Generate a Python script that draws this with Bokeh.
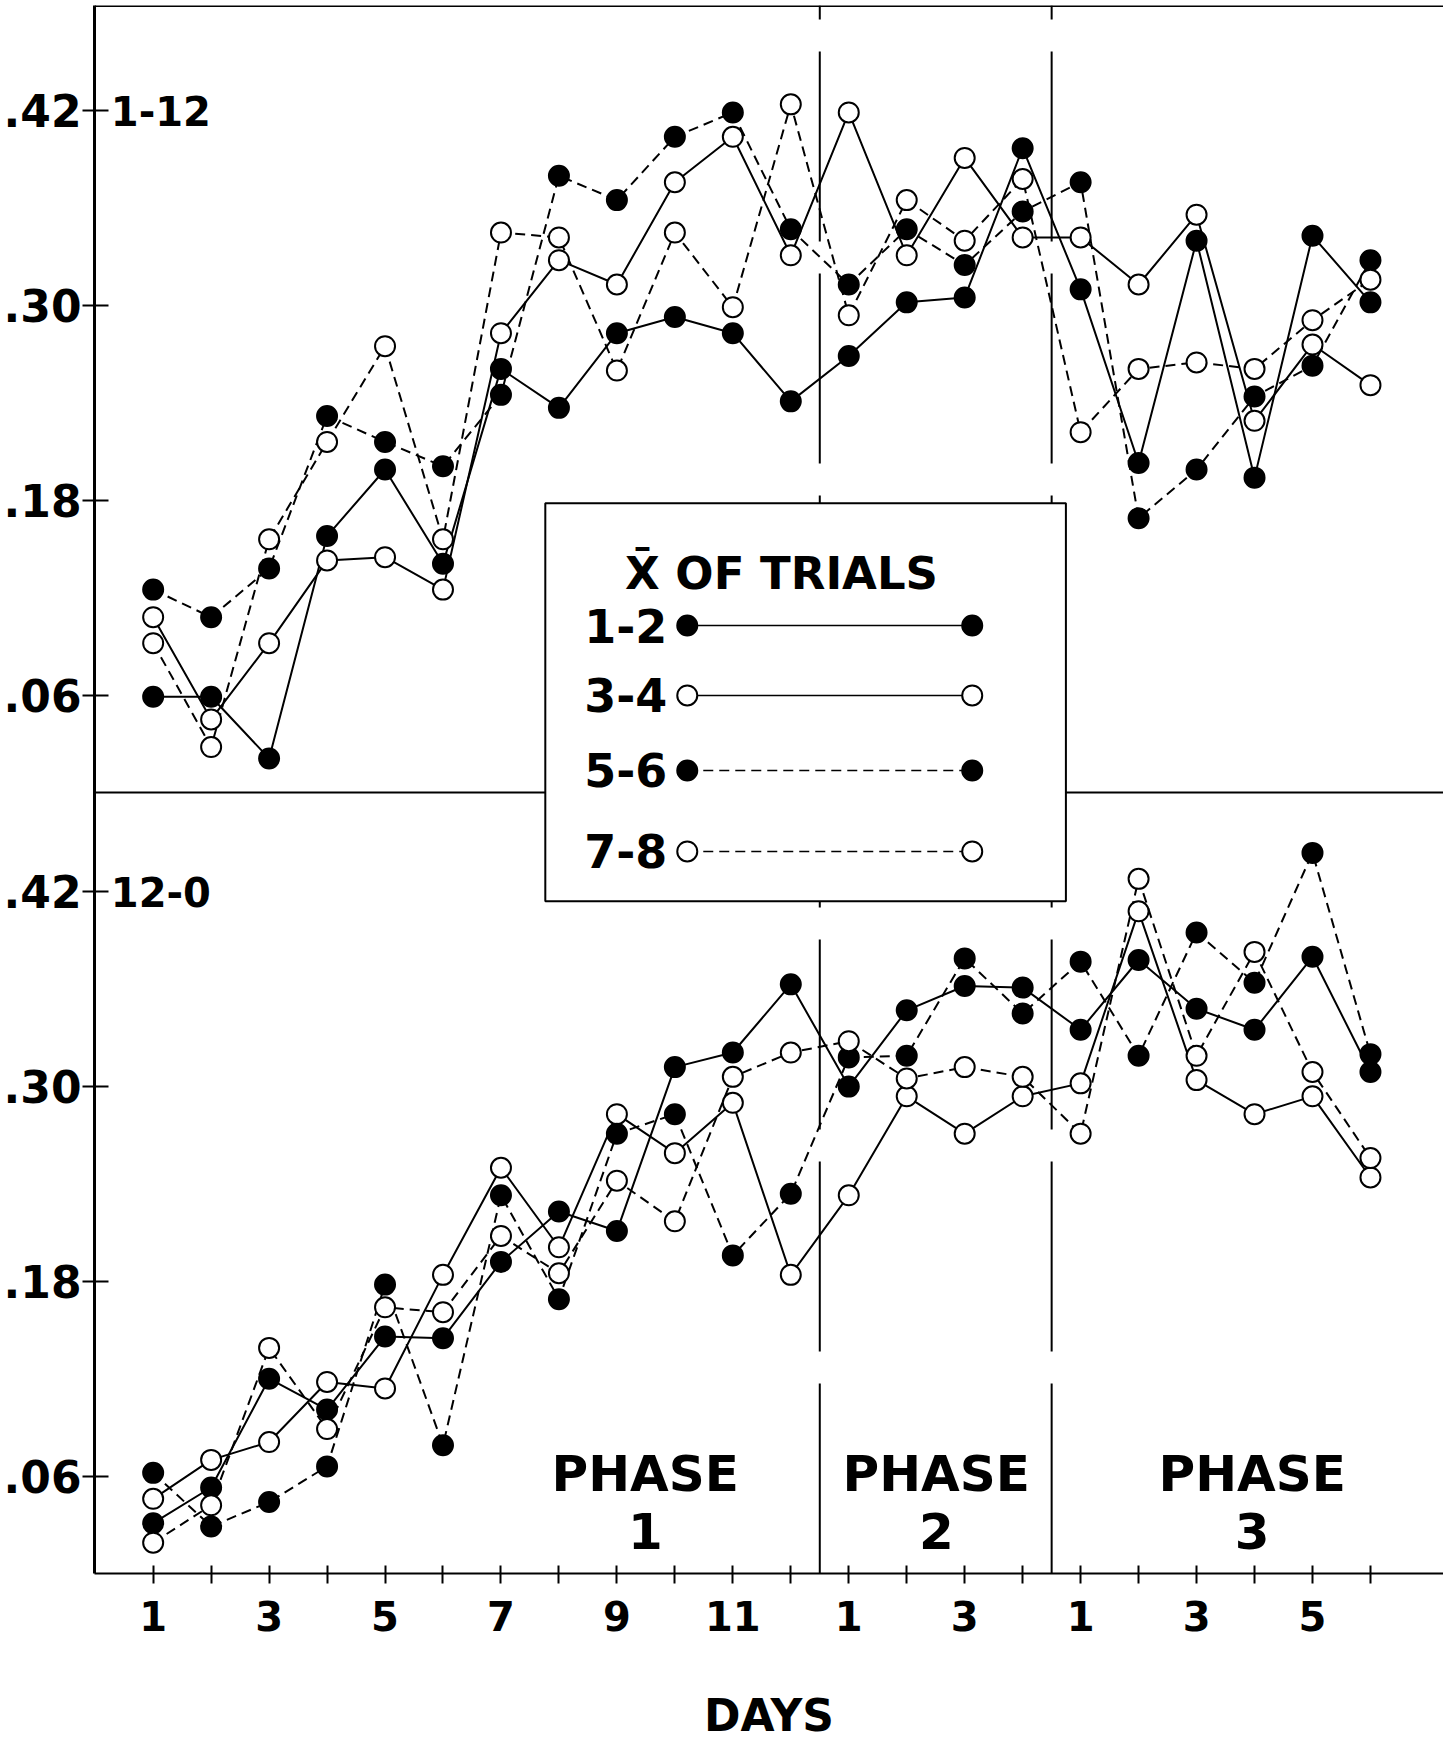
from bokeh.plotting import figure
from bokeh.models import Range1d, FixedTicker, Span, Label, BoxAnnotation
from bokeh.embed import file_html
from bokeh.resources import INLINE

# ---------------- data ----------------
# 22 consecutive test days: phase 1 (12 days), phase 2 (4 days), phase 3 (6 days)
day_idx = list(range(22))
day_labels = ["1", "", "3", "", "5", "", "7", "", "9", "", "11", "",
              "1", "", "3", "",
              "1", "", "3", "", "5", ""]
phase_names = ["PHASE", "PHASE", "PHASE"]
phase_nums = ["1", "2", "3"]
y_ticks = [0.06, 0.18, 0.30, 0.42]
y_tick_labels = [".06", ".18", ".30", ".42"]
series_names = ["1-2", "3-4", "5-6", "7-8"]

# upper panel "1-12"
top_12 = [.059, .059, .021, .158, .199, .141, .261, .237, .283, .293, .283, .241,
          .269, .302, .305, .397,
          .310, .203, .340, .194, .343, .302]
top_34 = [.108, .045, .092, .143, .145, .125, .283, .328, .313, .376, .404, .331,
          .419, .331, .391, .342,
          .342, .313, .356, .229, .276, .251]
top_56 = [.125, .108, .138, .232, .216, .201, .245, .380, .365, .404, .419, .347,
          .313, .347, .325, .358,
          .376, .169, .199, .244, .263, .328]
top_78 = [.092, .028, .156, .216, .275, .156, .345, .342, .260, .345, .299, .424,
          .294, .365, .340, .378,
          .222, .261, .265, .261, .291, .316]

# lower panel "12-0"
bot_12 = [.031, .053, .120, .101, .146, .145, .192, .223, .211, .312, .321, .363,
          .300, .347, .362, .361,
          .335, .378, .348, .335, .380, .309]
bot_34 = [.046, .070, .081, .118, .114, .184, .250, .201, .283, .259, .290, .184,
          .233, .294, .271, .294,
          .302, .408, .304, .283, .294, .244]
bot_56 = [.062, .029, .044, .066, .178, .079, .233, .169, .271, .283, .196, .234,
          .318, .319, .379, .345,
          .377, .319, .395, .364, .444, .320]
bot_78 = [.019, .042, .139, .089, .164, .161, .208, .185, .242, .217, .306, .321,
          .328, .305, .312, .306,
          .271, .428, .319, .383, .309, .256]

# ---------------- layout constants ----------------
FONT = "DejaVu Sans"
K = 1623.0             # px per unit of proportion
FRAME_H = 1568
Y_END = FRAME_H / K
OFF = round(781 / K, 6)  # the upper panel's zero, in the lower panel's units

p = figure(width=1443, height=1743, output_backend="svg", toolbar_location=None,
           x_range=Range1d(-1.012, 22.26), y_range=Range1d(0, Y_END),
           min_border_left=89, min_border_right=0, min_border_top=5,
           min_border_bottom=170)
p.extra_y_ranges = {"top": Range1d(-OFF, Y_END - OFF)}
p.grid.visible = False
p.outline_line_color = None
p.background_fill_color = "white"
p.border_fill_color = "white"

# y axis: same ticks for both panels
ticks_all = list(y_ticks) + [round(t + OFF, 6) for t in y_ticks]
overrides = {}
for t, lab in zip(y_ticks, y_tick_labels):
    overrides[t] = lab
    overrides[round(t + OFF, 6)] = lab
p.yaxis.ticker = FixedTicker(ticks=ticks_all, minor_ticks=[])
p.yaxis.major_label_overrides = overrides
p.yaxis.axis_line_width = 3
p.yaxis.axis_line_color = "black"
p.yaxis.major_tick_in = 14
p.yaxis.major_tick_out = 12
p.yaxis.major_tick_line_width = 2
p.yaxis.minor_tick_line_color = None
p.yaxis.major_label_standoff = 1
p.yaxis.major_label_text_font = FONT
p.yaxis.major_label_text_font_style = "bold"
p.yaxis.major_label_text_font_size = "44px"
p.yaxis.major_label_text_color = "black"

# x axis
p.xaxis.ticker = FixedTicker(ticks=day_idx, minor_ticks=[])
p.xaxis.major_label_overrides = {i: lab for i, lab in zip(day_idx, day_labels)}
p.xaxis.axis_line_width = 2
p.xaxis.axis_line_color = "black"
p.xaxis.major_tick_in = 8
p.xaxis.major_tick_out = 10
p.xaxis.major_tick_line_width = 2
p.xaxis.minor_tick_line_color = None
p.xaxis.major_label_standoff = 17
p.xaxis.major_label_text_font = FONT
p.xaxis.major_label_text_font_style = "bold"
p.xaxis.major_label_text_font_size = "40px"
p.xaxis.major_label_text_color = "black"
p.xaxis.axis_label = "DAYS"
p.xaxis.axis_label_text_font = FONT
p.xaxis.axis_label_text_font_style = "bold"
p.xaxis.axis_label_text_font_size = "44px"
p.xaxis.axis_label_standoff = 56
p.xaxis.axis_label_text_color = "black"

# frame lines
p.add_layout(Span(location=Y_END, dimension="width", line_color="black", line_width=3))
p.add_layout(Span(location=OFF, dimension="width", line_color="black", line_width=2))
for loc in (11.5, 15.5):
    p.segment(x0=[loc], y0=[0], x1=[loc], y1=[Y_END], line_color="black",
              line_width=2, line_dash="190 32")

styles = [
    ("black", "solid"),
    ("white", "solid"),
    ("black", "10 6"),
    ("white", "10 6"),
]

panels = [("top", [top_12, top_34, top_56, top_78]),
          ("default", [bot_12, bot_34, bot_56, bot_78])]

for rname, data in panels:
    for vals, (fill, dash) in zip(data, styles):
        p.line(day_idx, vals, line_color="black", line_width=2, line_dash=dash,
               y_range_name=rname)
for rname, data in panels:
    for vals, (fill, dash) in zip(data, styles):
        p.scatter(day_idx, vals, marker="circle", size=20, fill_color=fill,
                  line_color="black", line_width=2, y_range_name=rname)

# panel titles
p.add_layout(Label(x=-0.73, y=0.42, y_range_name="top", text="1-12",
                   text_font=FONT, text_font_style="bold", text_font_size="40px",
                   text_baseline="middle", text_align="left", text_color="black"))
p.add_layout(Label(x=-0.73, y=0.42, text="12-0",
                   text_font=FONT, text_font_style="bold", text_font_size="40px",
                   text_baseline="middle", text_align="left", text_color="black"))

# phase labels
for cx, nm, num in zip([8.49, 13.51, 18.96], phase_names, phase_nums):
    p.add_layout(Label(x=cx, y=0.0616, text=nm, text_font=FONT,
                       text_font_style="bold", text_font_size="50px",
                       text_align="center", text_baseline="middle", text_color="black"))
    p.add_layout(Label(x=cx, y=0.0259, text=num, text_font=FONT,
                       text_font_style="bold", text_font_size="50px",
                       text_align="center", text_baseline="middle", text_color="black"))

# legend box
p.add_layout(BoxAnnotation(left=6.765, right=15.746, bottom=0.4142, top=0.6595,
                           fill_color="white", fill_alpha=1.0,
                           line_color="black", line_width=2, line_alpha=1.0))
p.add_layout(Label(x=10.84, y=0.6161, text="X\u0304 OF TRIALS", text_font=FONT,
                   text_font_style="bold", text_font_size="45px",
                   text_align="center", text_baseline="middle", text_color="black"))
leg_y = [0.5841, 0.5410, 0.4948, 0.4449]
leg_x = [9.214, 14.13]
for name, yy, (fill, dash) in zip(series_names, leg_y, styles):
    p.add_layout(Label(x=8.87, y=yy, text=name, text_font=FONT,
                       text_font_style="bold", text_font_size="46px",
                       text_align="right", text_baseline="middle", text_color="black"))
    p.line(leg_x, [yy, yy], line_color="black", line_width=1.5,
           line_dash=dash, level="overlay")
    p.scatter(leg_x, [yy, yy], marker="circle", size=20, fill_color=fill,
              line_color="black", line_width=2, level="overlay")

open("out.html", "w").write(file_html(p, INLINE))
